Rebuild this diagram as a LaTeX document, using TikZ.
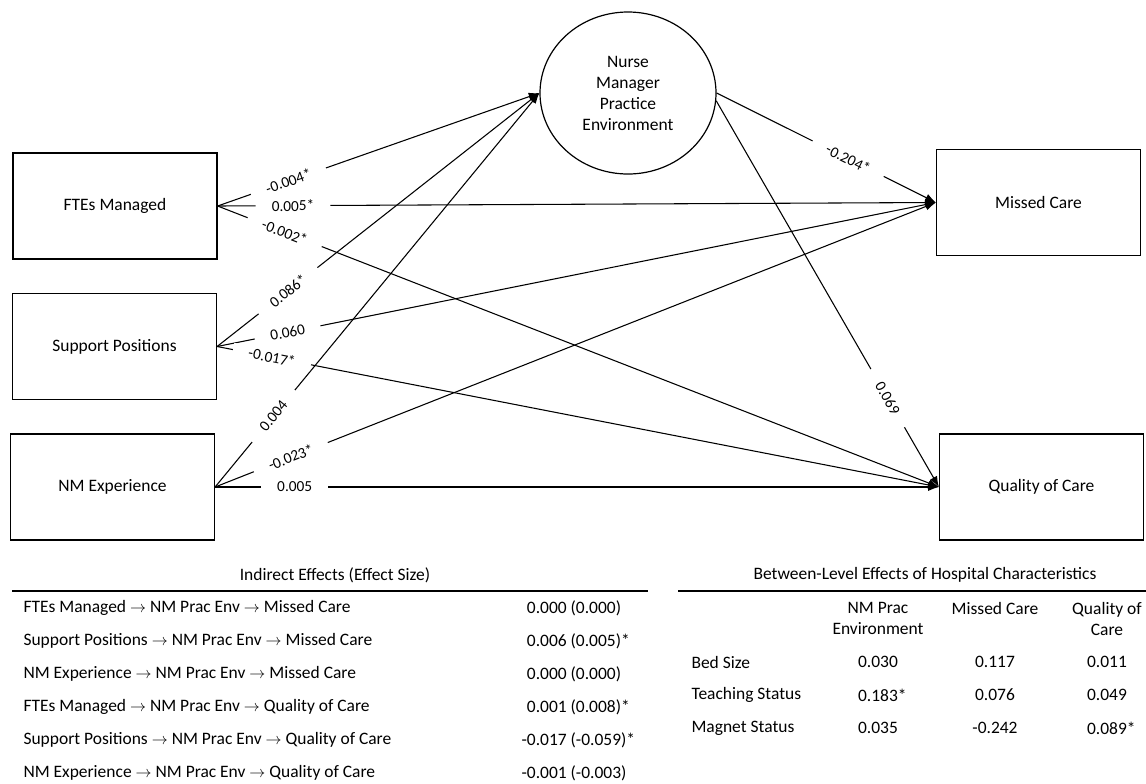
\documentclass[tikz,border=0pt]{standalone}
\usepackage{fontspec}
\setmainfont{Carlito}
\usetikzlibrary{shapes.geometric}
\usetikzlibrary{arrows.meta}

\newcommand\txtfont{\fontsize{13.1}{15.75}\selectfont}
\newcommand\lblfont{\fontsize{11.5}{13.8}\selectfont}
\newcommand\thru{ $\rightarrow$ }
\newcommand\coef[2]{node[gap,pos=#1] {\phantom{#2}} node[lbl,pos=#1] {#2}}

\begin{document}
\begin{tikzpicture}[x=0.75pt,y=-0.75pt,line width=0.8pt,
  box/.style={draw,line width=0.9pt,minimum width=153pt,minimum height=79.5pt,font=\txtfont},
  lat/.style={draw,ellipse,line width=0.9pt,minimum width=132pt,minimum height=121.5pt,inner sep=0pt,align=center,font=\txtfont},
  arr/.style={-{Latex[length=8pt,width=6pt]}},
  gap/.style={fill=white,sloped,inner xsep=12pt,inner ysep=1pt,font=\lblfont},
  lbl/.style={sloped,inner sep=0.5pt,font=\lblfont},
  cell/.style={inner sep=0pt,font=\txtfont}]
\useasboundingbox (0,0) rectangle (1146,783);

\node[lat] (nmpe) at (628,93) {Nurse\\Manager\\Practice\\Environment};
\node[box] (fte) at (115,206) {FTEs Managed};
\node[box] (sup) at (114.5,346.5) {Support Positions};
\node[box] (nme) at (112.5,487) {NM Experience};
\node[box] (mc) at (1038.5,202.5) {Missed Care};
\node[box] (qc) at (1041.5,487) {Quality of Care};

\draw[arr] (nme.east) -- (nmpe.west) \coef{0.18}{0.004};
\draw[arr] (nme.east) -- (mc.west) \coef{0.105}{-0.023*};
\draw[arr] (nme.east) -- (qc.west) \coef{0.11}{0.005};
\draw[arr] (sup.east) -- (nmpe.west) \coef{0.22}{0.086*};
\draw[arr] (sup.east) -- (mc.west) \coef{0.098}{0.060};
\draw[arr] (sup.east) -- (qc.west) \coef{0.076}{-0.017*};
\draw[arr] (fte.east) -- (nmpe.west) \coef{0.22}{-0.004*};
\draw[arr] (fte.east) -- (mc.west) \coef{0.105}{0.005*};
\draw[arr] (fte.east) -- (qc.west) \coef{0.093}{-0.002*};
\draw[arr] (nmpe.east) -- (mc.west) \coef{0.6}{-0.204*};
\draw[arr] (nmpe.-5) -- (qc.west) \coef{0.77}{0.069};

% indirect effects
\node[cell] (ietitle) at (335,575) {Indirect Effects (Effect Size)};
\draw[line width=1.3pt] (12,591) -- (648,591);
\foreach \src/\dst/\val [count=\i] in {
  FTEs Managed/Missed Care/{0.000 (0.000)},
  Support Positions/Missed Care/{0.006 (0.005)\rlap{*}},
  NM Experience/Missed Care/{0.000 (0.000)},
  FTEs Managed/Quality of Care/{0.001 (0.008)\rlap{*}},
  Support Positions/Quality of Care/{-0.017 (-0.059)\rlap{*}},
  NM Experience/Quality of Care/{-0.001 (-0.003)}}
{
  \node[cell,anchor=west] (iel\i) at (23,575+33*\i) {\src\thru NM Prac Env\thru\dst};
  \node[cell] (iev\i) at (574,575+33*\i) {\val};
}

% between-level effects
\node[cell] (bltitle) at (925,575) {Between-Level Effects of Hospital Characteristics};
\draw[line width=1.3pt] (678,591) -- (1146,591);
\node[cell,align=center] (blh1) at (878,618.5) {NM Prac\\Environment};
\node[cell] (blh2) at (995,608) {Missed Care};
\node[cell,align=center] (blh3) at (1107,618.5) {Quality of\\Care};
\foreach \lab/\a/\b/\c [count=\i] in {
  Bed Size/0.030/0.117/0.011,
  Teaching Status/0.183\rlap{*}/0.076/0.049,
  Magnet Status/0.035/-0.242/0.089\rlap{*}}
{
  \node[cell,anchor=west] (bll\i) at (691,629+33*\i) {\lab};
  \node[cell] (bla\i) at (878,629+33*\i) {\a};
  \node[cell] (blb\i) at (995,629+33*\i) {\b};
  \node[cell] (blc\i) at (1107,629+33*\i) {\c};
}
\end{tikzpicture}
\end{document}
